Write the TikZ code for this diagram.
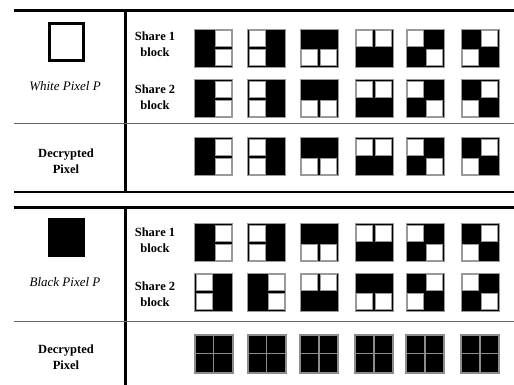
\documentclass[tikz,border=0pt]{standalone}
\usepackage{fontspec}
\setmainfont{Liberation Serif}
\usetikzlibrary{positioning}

\tikzset{
  rule/.style={line width=3pt},
  thinrule/.style={line width=1pt, black!60},
  rowtext/.style={font=\bfseries\fontsize{12.5}{16}\selectfont, align=center, inner sep=0pt},
  pixtext/.style={font=\itshape\fontsize{13}{15}\selectfont, inner sep=0pt},
}

% one 2x2 share block: centre x, centre y, then TL TR BL BR (1 = black)
\newcommand{\shareblk}[6]{%
  \fill[black] ({#1-19},{#2-19}) rectangle ({#1+19},{#2+19});
  \foreach \i/\j/\v in {0/0/#3, 1/0/#4, 0/1/#5, 1/1/#6} {
    \ifnum\v=0
      \draw[black!40, fill=white, line width=0.6pt]
        ({#1-19+19*\i+1.6},{#2-19+19*\j+1.6}) rectangle ++(15.8,15.8);
    \fi
  }
  \draw[black!40, line width=0.8pt] ({#1-19},{#2-19}) rectangle ({#1+19},{#2+19});
}

% fully black decrypted block
\newcommand{\blackblk}[2]{%
  \fill[black] ({#1-19},{#2-19}) rectangle ({#1+19},{#2+19});
  \draw[black!45, line width=1.4pt] ({#1},{#2-19}) -- ({#1},{#2+19});
  \draw[black!45, line width=0.8pt] ({#1-19},{#2}) -- ({#1+19},{#2});
  \draw[black!45, line width=2pt] ({#1-19},{#2-19}) rectangle ({#1+19},{#2+19});
}

\begin{document}
\begin{tikzpicture}[x=1pt, y=-1pt]
    \useasboundingbox (0,0) rectangle (514,385);

    % Top table rules
    \draw[rule] (14,11) -- (514,11);
    \draw[rule] (125,11) -- (125,192);
    \draw[thinrule] (14,124) -- (514,124);
    \draw[line width=2pt] (14,192) -- (514,192);

    % Bottom table rules
    \draw[rule] (14,207) -- (514,207);
    \draw[rule] (125,207) -- (125,385);
    \draw[thinrule] (14,321) -- (514,321);

    % Pixels P
    \draw[line width=3pt] (49.5,23.5) rectangle (83.5,60.5);
    \fill[black] (48,218) rectangle (85,257);

    % Left and middle texts
    \node[pixtext] (whitep) at (65,86) {White Pixel P};
    \node[pixtext] (blackp) at (65,282) {Black Pixel P};
    \node[rowtext] (dectop) at (66,161) {Decrypted\\Pixel};
    \node[rowtext] (decbot) at (66,357) {Decrypted\\Pixel};
    \node[rowtext] (s1top) at (155,44) {Share 1\\block};
    \node[rowtext] (s2top) at (155,97) {Share 2\\block};
    \node[rowtext] (s1bot) at (155,240) {Share 1\\block};
    \node[rowtext] (s2bot) at (155,294) {Share 2\\block};

    % White pixel: shares and result
    \foreach \cx/\a/\b/\c/\d in {213.5/1/0/1/0, 266.5/0/1/0/1, 319/1/1/0/0,
                                 374/0/0/1/1, 425/0/1/1/0, 480/1/0/0/1} {
        \foreach \cy in {48, 98.5, 156.5} {
            \shareblk{\cx}{\cy}{\a}{\b}{\c}{\d}
        }
    }

    % Black pixel: share 1
    \foreach \cx/\a/\b/\c/\d in {213.5/1/0/1/0, 266.5/0/1/0/1, 319/1/1/0/0,
                                 374/0/0/1/1, 425/0/1/1/0, 480/1/0/0/1} {
        \shareblk{\cx}{242.5}{\a}{\b}{\c}{\d}
    }
    % Black pixel: share 2
    \foreach \cx/\a/\b/\c/\d in {213.5/0/1/0/1, 266.5/1/0/1/0, 319/0/0/1/1,
                                 374/1/1/0/0, 425/1/0/0/1, 480/0/1/1/0} {
        \shareblk{\cx}{292}{\a}{\b}{\c}{\d}
    }
    % Black pixel: result
    \foreach \cx in {213.5, 266.5, 319, 374, 425, 480} {
        \blackblk{\cx}{353.5}
    }
\end{tikzpicture}
\end{document}
